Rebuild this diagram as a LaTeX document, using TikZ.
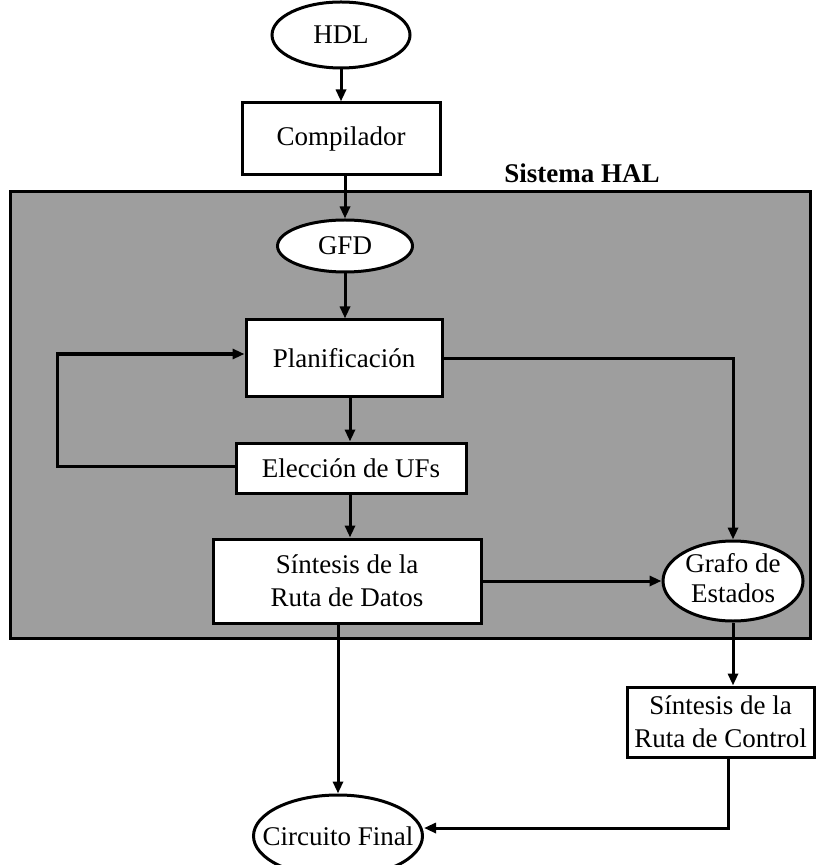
\documentclass[tikz,border=0pt]{standalone}
\usepackage{fontspec}
\setmainfont{Liberation Serif}
\usetikzlibrary{arrows.meta,shapes.geometric,calc}

\tikzset{
  every node/.style={font=\fontsize{13.5}{16.5}\selectfont},
  stepbox/.style={draw, line width=1.5pt, fill=white, rectangle, inner sep=0pt, align=center},
  oval/.style={draw, line width=1.5pt, fill=white, ellipse, inner sep=0pt},
  flow/.style={line width=1.5pt, -{Triangle[length=6pt,width=5pt]}},
  halzone/.style={draw, line width=1.5pt, fill=black!38},
}

\begin{document}
\begin{tikzpicture}[x=0.5pt, y=-0.5pt]
  \useasboundingbox (0,0) rectangle (816,865);

  % HAL system area
  \draw[halzone] (10,192) rectangle (810,638);
  \node[font=\fontsize{13.5}{16.5}\selectfont\bfseries] (haltitle) at (582,173) {Sistema HAL};

  % process steps
  \node[oval, minimum width=69pt, minimum height=33pt, label=center:{HDL}] (hdl) at (341,35) {};
  \node[stepbox, minimum width=99pt, minimum height=36pt] (comp) at (341,139) {Compilador};
  \node[oval, minimum width=67.5pt, minimum height=26pt, label=center:{GFD}] (gfd) at (345,246) {};
  \node[stepbox, minimum width=98pt, minimum height=38pt] (plan) at (344,358) {Planificación};
  \node[stepbox, minimum width=115pt, minimum height=25pt] (elec) at (351,468) {Elección de UFs};
  \node[stepbox, minimum width=134pt, minimum height=42pt] (sint) at (347,581) {Síntesis de la\\Ruta de Datos};
  \node[oval, minimum width=70pt, minimum height=40pt, label=center:{\begin{tabular}{@{}c@{}}Grafo de\\[-1.5pt]Estados\end{tabular}}] (grafo) at (733,581) {};
  \node[stepbox, minimum width=93.5pt, minimum height=35pt] (ctrl) at (720.5,722) {Síntesis de la\\Ruta de Control};
  \node[oval, minimum width=84.5pt, minimum height=41pt, label=center:{Circuito Final}] (circ) at (338,836) {};

  % bends of the connectors
  \coordinate (loopb) at (57,466);
  \coordinate (loopt) at (57,354);
  \coordinate (ctrlb) at (728,828);

  % connectors
  \draw[flow] (hdl.south) -- (hdl.south |- comp.north);
  \draw[flow] (comp.south -| gfd.north) -- (gfd.north);
  \draw[flow] (gfd.south) -- (gfd.south |- plan.north);
  \draw[flow] (plan.south -| 350,0) -- (elec.north -| 350,0);
  \draw[flow] (elec.south -| 350,0) -- (sint.north -| 350,0);
  \draw[flow] (elec.west |- loopb) -- (loopb) -- (loopt) -- (loopt -| plan.west);
  \draw[flow] (plan.east) -| (grafo.north);
  \draw[flow] (sint.east) -- (grafo.west);
  \draw[flow] (grafo.south) -- (grafo.south |- ctrl.north);
  \draw[flow] (sint.south -| circ.north) -- (circ.north);
  \draw[flow] (ctrl.south -| ctrlb) -- (ctrlb) -- ($(circ.east)+(0,-8)$);
\end{tikzpicture}
\end{document}
